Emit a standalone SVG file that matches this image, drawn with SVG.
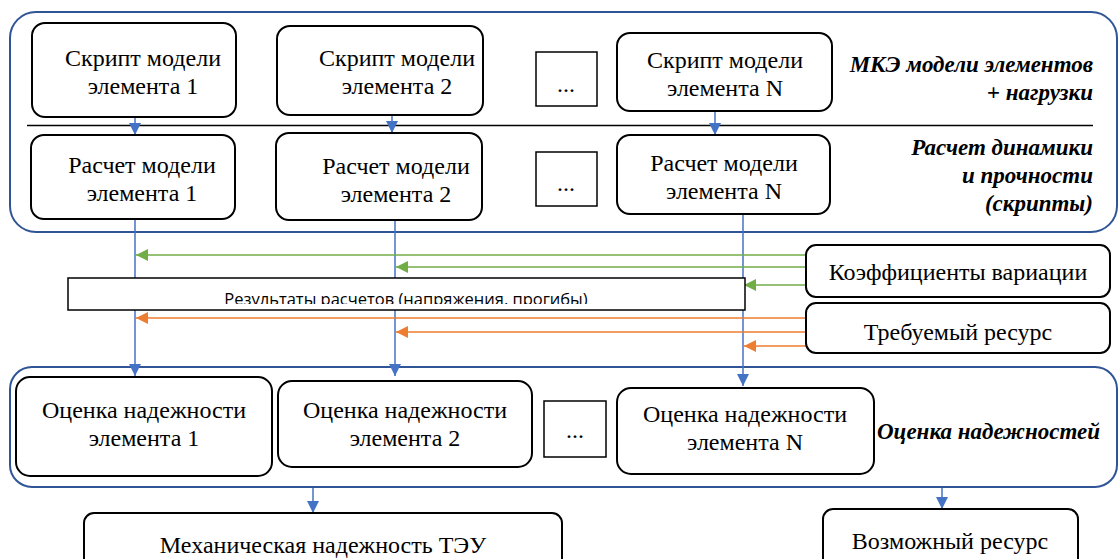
<svg xmlns="http://www.w3.org/2000/svg" width="1120" height="559" viewBox="0 0 1120 559">
<style>
.cont{fill:none;stroke:#2F5597;stroke-width:2}
.node{fill:#fff;stroke:#000;stroke-width:2}
.sq{fill:#fff;stroke:#000;stroke-width:1.5}
.t{font-family:'Liberation Serif','Times New Roman','DejaVu Serif',serif;font-size:24px;fill:#000;text-anchor:middle}
.lab{font-family:'Liberation Serif','Times New Roman','DejaVu Serif',serif;font-size:23px;font-weight:bold;font-style:italic;fill:#000;text-anchor:end}
.res{font-family:'Open Sans','Liberation Sans',sans-serif;font-size:16.5px;fill:#000;text-anchor:middle}
.b{stroke:#4472C4;stroke-width:1.5;fill:none}
.g{stroke:#70AD47;stroke-width:1.5;fill:none}
.o{stroke:#ED7D31;stroke-width:1.5;fill:none}
</style>
<defs>
<marker id="ab" markerUnits="userSpaceOnUse" markerWidth="14" markerHeight="14" refX="12" refY="6" orient="auto"><path d="M0,0 L12,6 L0,12 Z" fill="#4472C4"/></marker>
<marker id="ag" markerUnits="userSpaceOnUse" markerWidth="14" markerHeight="14" refX="12" refY="6" orient="auto"><path d="M0,0 L12,6 L0,12 Z" fill="#70AD47"/></marker>
<marker id="ao" markerUnits="userSpaceOnUse" markerWidth="14" markerHeight="14" refX="12" refY="6" orient="auto"><path d="M0,0 L12,6 L0,12 Z" fill="#ED7D31"/></marker>
<clipPath id="clipRes"><rect x="68" y="278" width="677" height="26"/></clipPath>
</defs>
<rect width="1120" height="559" fill="#fff"/>

<g id="containers">
<rect class="cont" x="10" y="12" width="1107" height="220" rx="26"/>
<line x1="27" y1="125.5" x2="1093" y2="125.5" stroke="#000" stroke-width="1.3"/>
<rect class="cont" x="10" y="367" width="1107" height="120" rx="22"/>
</g>

<g id="connectors">
<line class="b" x1="135" y1="117" x2="135" y2="135" marker-end="url(#ab)"/>
<line class="b" x1="392" y1="115" x2="392" y2="133" marker-end="url(#ab)"/>
<line class="b" x1="715" y1="111" x2="715" y2="135" marker-end="url(#ab)"/>
<line class="b" x1="135" y1="219" x2="135" y2="376" marker-end="url(#ab)"/>
<line class="b" x1="395" y1="220" x2="395" y2="376" marker-end="url(#ab)"/>
<line class="b" x1="743" y1="214" x2="743" y2="386" marker-end="url(#ab)"/>
<line class="g" x1="806" y1="255" x2="136" y2="255" marker-end="url(#ag)"/>
<line class="g" x1="806" y1="267" x2="396" y2="267" marker-end="url(#ag)"/>
<line class="g" x1="806" y1="285" x2="744" y2="285" marker-end="url(#ag)"/>
<line class="o" x1="806" y1="318" x2="136" y2="318" marker-end="url(#ao)"/>
<line class="o" x1="806" y1="332" x2="396" y2="332" marker-end="url(#ao)"/>
<line class="o" x1="806" y1="346" x2="744" y2="346" marker-end="url(#ao)"/>
<line class="b" x1="313" y1="488" x2="313" y2="513" marker-end="url(#ab)"/>
<line class="b" x1="942" y1="488" x2="942" y2="509" marker-end="url(#ab)"/>
</g>

<g id="results">
<rect class="sq" x="68" y="278" width="677" height="32"/>
<text class="res" x="406" y="305" clip-path="url(#clipRes)">Результаты расчетов (напряжения, прогибы)</text>
</g>

<g id="script1"><rect class="node" x="32" y="23" width="204" height="94" rx="13"/><text class="t" x="143" y="66">Скрипт модели</text><text class="t" x="143" y="94">элемента 1</text></g>
<g id="script2"><rect class="node" x="277" y="26" width="206" height="89" rx="13"/><text class="t" x="397" y="66">Скрипт модели</text><text class="t" x="397" y="94">элемента 2</text></g>
<g id="scriptDots"><rect class="sq" x="536" y="52" width="61" height="54"/><text class="t" x="566" y="92">...</text></g>
<g id="scriptN"><rect class="node" x="617" y="33" width="215" height="78" rx="13"/><text class="t" x="725" y="68">Скрипт модели</text><text class="t" x="725" y="96">элемента N</text></g>
<g id="labelMKE"><text class="lab" x="1093" y="72">МКЭ модели элементов</text><text class="lab" x="1093" y="100">+ нагрузки</text></g>

<g id="calc1"><rect class="node" x="31" y="135" width="204" height="84" rx="13"/><text class="t" x="142" y="173">Расчет модели</text><text class="t" x="142" y="201">элемента 1</text></g>
<g id="calc2"><rect class="node" x="276" y="133" width="206" height="87" rx="13"/><text class="t" x="396" y="174">Расчет модели</text><text class="t" x="396" y="202">элемента 2</text></g>
<g id="calcDots"><rect class="sq" x="536" y="152" width="61" height="54"/><text class="t" x="566" y="191">...</text></g>
<g id="calcN"><rect class="node" x="617" y="135" width="213" height="79" rx="13"/><text class="t" x="724" y="171">Расчет модели</text><text class="t" x="724" y="199">элемента N</text></g>
<g id="labelCalc"><text class="lab" x="1093" y="155">Расчет динамики</text><text class="lab" x="1093" y="183">и прочности</text><text class="lab" x="1093" y="211">(скрипты)</text></g>

<g id="coef"><rect class="node" x="806" y="245" width="304" height="52" rx="10"/><text class="t" x="958" y="280">Коэффициенты вариации</text></g>
<g id="required"><rect class="node" x="806" y="303" width="304" height="50" rx="10"/><text class="t" x="958" y="340">Требуемый ресурс</text></g>

<g id="rel1"><rect class="node" x="16" y="377" width="256" height="99" rx="14"/><text class="t" x="144" y="418">Оценка надежности</text><text class="t" x="144" y="446">элемента 1</text></g>
<g id="rel2"><rect class="node" x="278" y="381" width="254" height="86" rx="14"/><text class="t" x="405" y="418">Оценка надежности</text><text class="t" x="405" y="446">элемента 2</text></g>
<g id="relDots"><rect class="sq" x="544" y="401" width="62" height="56"/><text class="t" x="575" y="438">...</text></g>
<g id="relN"><rect class="node" x="617" y="388" width="257" height="86" rx="14"/><text class="t" x="745" y="422">Оценка надежности</text><text class="t" x="745" y="450">элемента N</text></g>
<g id="labelRel"><text class="lab" x="1100" y="439">Оценка надежностей</text></g>

<g id="mech"><rect class="node" x="84" y="513" width="478" height="60" rx="10"/><text class="t" x="323" y="553">Механическая надежность ТЭУ</text></g>
<g id="possible"><rect class="node" x="823" y="509" width="255" height="64" rx="10"/><text class="t" x="950" y="549">Возможный ресурс</text></g>
</svg>
